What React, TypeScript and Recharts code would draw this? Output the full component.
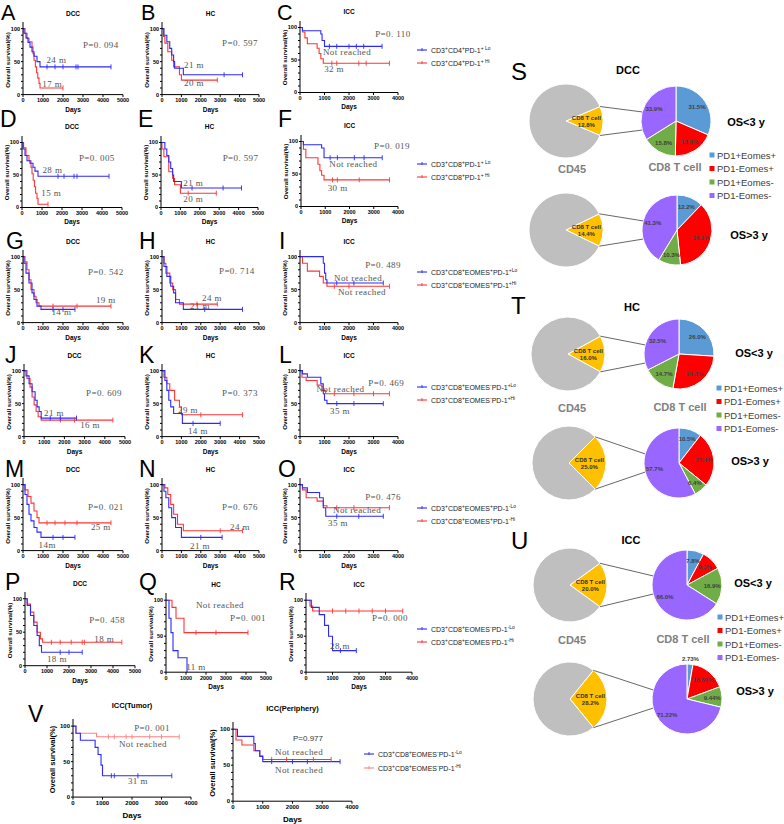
import React from 'react';
import { LineChart, Line, XAxis, YAxis, ReferenceDot, PieChart, Pie, Cell } from 'recharts';

const SANS = '"Liberation Sans", Arial, Helvetica, sans-serif';
const SERIF = '"Liberation Serif", "Times New Roman", serif';
const BLUE = '#2a2aff';
const RED = '#ff3535';
const LIGHT_RED = '#ff8080';

// ---------- tick labels ----------
const Y_TICKS = [0, 10, 20, 30, 40, 50, 60, 70, 80, 90, 100];
const X_TICKS_5K = [0, 1000, 2000, 3000, 4000, 5000];
const X_TICKS_4K = [0, 1000, 2000, 3000, 4000];

// ---------- KM curves: [day, survival %, censored(1)] ----------
const A_lo = [[0,100],[50,93],[150,86],[250,79],[350,72],[450,65],[550,58],[700,50],[850,42],[1200,42,1],[1600,42,1],[2000,42,1],[2650,42,1],[2750,42,1],[4400,42,1]];
const A_hi = [[0,100],[100,93],[200,85],[300,80],[450,72],[500,62],[550,52],[620,42],[680,33],[740,25],[800,17],[850,10],[2000,10,1]];
const B_lo = [[0,100],[100,90],[250,80],[400,70],[500,60],[600,50],[650,40],[1100,30],[3200,30,1],[4150,30,1]];
const B_hi = [[0,100],[80,88],[150,78],[300,65],[500,52],[600,42],[900,30],[1000,22],[2850,22,1]];
const C_lo = [[0,100],[100,95],[850,90],[900,80],[1000,71],[1200,71,1],[1500,71,1],[2000,71,1],[2300,71,1],[2600,71,1],[3350,71,1]];
const C_hi = [[0,100],[100,93],[200,84],[300,75],[700,68],[780,60],[850,52],[950,45],[1300,45,1],[1500,45,1],[2400,45,1],[2700,45,1],[3650,45,1]];
const D_lo = [[0,100],[50,90],[150,80],[250,72],[400,68],[550,62],[650,56],[800,48],[1800,48,1],[2100,48,1],[2600,48,1],[2750,48,1],[4350,48,1]];
const D_hi = [[0,100],[80,92],[200,80],[350,72],[450,62],[500,52],[560,42],[620,32],[680,22],[750,14],[800,5],[1300,5,1]];
const E_lo = [[0,100],[200,90],[300,80],[400,70],[500,60],[600,50],[650,40],[1050,30],[1600,30,1],[3200,30,1],[4150,30,1]];
const E_hi = [[0,100],[50,90],[150,78],[400,55],[600,45],[700,35],[1000,22],[1400,22,1],[2850,22,1]];
const F_lo = [[0,100],[100,95],[850,90],[950,75],[1200,75,1],[1500,75,1],[2200,75,1],[2600,75,1],[3350,75,1]];
const F_hi = [[0,100],[100,88],[200,75],[700,65],[780,55],[850,48],[950,41],[1300,41,1],[1500,41,1],[2400,41,1],[3650,41,1]];
const G_lo = [[0,100],[50,90],[150,75],[300,60],[450,45],[550,35],[700,25],[900,20],[1500,20,1],[2000,20,1],[2600,20,1]];
const G_hi = [[0,100],[100,92],[200,80],[300,65],[400,50],[550,40],[650,30],[800,25],[1500,25,1],[2700,25,1],[4400,25,1]];
const H_lo = [[0,100],[100,85],[250,70],[450,55],[600,45],[700,30],[1100,20],[2200,20,1],[4150,20,1]];
const H_hi = [[0,100],[100,90],[200,75],[400,60],[550,50],[700,35],[900,28],[1800,28,1],[2850,28,1]];
const I_lo = [[0,100],[900,100],[950,90],[1000,75],[1050,65],[1100,60],[1500,60,1],[2200,60,1],[3400,60,1]];
const I_hi = [[0,100],[100,90],[300,78],[800,70],[950,60],[1100,55],[1400,55,1],[2000,55,1],[3650,55,1]];
const J_lo = [[0,100],[100,92],[250,80],[400,68],[550,55],[650,45],[750,38],[850,28],[1300,28,1],[1800,28,1],[2600,28,1]];
const J_hi = [[0,100],[150,88],[300,75],[400,60],[500,48],[600,38],[700,30],[850,25],[1800,25,1],[2500,25,1],[4400,25,1]];
const K_lo = [[0,100],[150,85],[250,70],[350,55],[450,45],[600,35],[1050,20],[1600,20,1],[3000,20,1]];
const K_hi = [[0,100],[100,90],[250,80],[400,70],[650,55],[900,45],[1000,33],[2000,33,1],[4150,33,1]];
const L_lo = [[0,100],[100,95],[300,90],[850,80],[950,65],[1000,55],[1100,50],[1500,50,1],[2200,50,1],[3400,50,1]];
const L_hi = [[0,100],[80,90],[250,85],[700,78],[900,70],[1050,65],[1400,65,1],[2200,65,1],[3000,65,1],[3650,65,1]];
const M_lo = [[0,100],[100,85],[200,70],[300,55],[400,45],[550,35],[700,28],[900,20],[1500,20,1],[2000,20,1],[2600,20,1]];
const M_hi = [[0,100],[100,92],[250,82],[400,72],[550,60],[700,50],[800,42],[1200,42,1],[1600,42,1],[2100,42,1],[2700,42,1],[4400,42,1]];
const N_lo = [[0,100],[100,90],[200,80],[350,65],[500,50],[700,35],[1000,20],[2000,20,1],[3100,20,1]];
const N_hi = [[0,100],[150,95],[300,85],[450,70],[600,55],[800,40],[1100,30],[3000,30,1],[4150,30,1]];
const O_lo = [[0,100],[100,95],[300,88],[800,80],[950,65],[1050,52],[1500,52,1],[2400,52,1],[3400,52,1]];
const O_hi = [[0,100],[100,92],[250,80],[700,75],[950,68],[1100,65],[1500,65,1],[2200,65,1],[3650,65,1]];
const P_lo = [[0,100],[100,90],[250,75],[400,60],[550,45],[650,30],[750,20],[1600,20,1],[2000,20,1],[2600,20,1]];
const P_hi = [[0,100],[100,92],[250,80],[400,65],[550,50],[700,40],[800,35],[1200,35,1],[1600,35,1],[2100,35,1],[2600,35,1],[2700,35,1],[4400,35,1]];
const Q_lo = [[0,100],[150,75],[250,55],[350,30],[600,20],[1050,0]];
const Q_hi = [[0,100],[300,90],[500,75],[900,55],[1500,55,1],[2500,55,1],[4100,55,1]];
const R_lo = [[0,100],[200,90],[500,80],[700,65],[850,50],[1000,30],[1300,30,1],[1900,30,1]];
const R_hi = [[0,100],[150,92],[250,85],[1000,85,1],[1500,85,1],[2000,85,1],[2500,85,1],[3000,85,1],[3650,85,1]];
const VT_lo = [[0,100],[100,90],[250,80],[750,70],[850,60],[950,45],[1000,30],[1300,30,1],[1400,30,1],[2200,30,1],[3350,30,1]];
const VT_hi = [[0,100],[100,90],[800,85],[1200,85,1],[1400,85,1],[1800,85,1],[2000,85,1],[2600,85,1],[3000,85,1],[3600,85,1]];
const VP_lo = [[0,100],[150,90],[700,80],[750,70],[900,62],[1000,55],[1300,55,1],[2000,55,1],[2500,55,1],[3600,55,1]];
const VP_hi = [[0,100],[100,85],[300,78],[700,70],[900,63],[1000,58],[1300,58,1],[1800,58,1],[2700,58,1],[3300,58,1]];

// ---------- in-plot annotations: [day, survival %, text, font?] ----------
type Note = [number, number, string, string?];
const A_notes: Note[] = [[3890,76,'P=0. 094'],[1670,53,'24 m'],[1460,16,'17 m']];
const B_notes: Note[] = [[4020,79,'P=0. 597'],[1650,45,'21 m'],[1650,18,'20 m']];
const C_notes: Note[] = [[3790,90,'P=0. 110'],[1920,63,'Not reached'],[1390,36,'32 m']];
const D_notes: Note[] = [[3740,77,'P=0. 005'],[1520,58,'28 m'],[1460,23,'15 m']];
const E_notes: Note[] = [[4100,77,'P=0. 597'],[1660,38,'21 m'],[1660,14,'20 m']];
const F_notes: Note[] = [[3750,94,'P=0. 019'],[2160,66,'Not reached'],[1510,29,'30 m']];
const G_notes: Note[] = [[4140,77,'P=0. 542'],[4140,35,'19 m'],[1920,17,'14 m']];
const H_notes: Note[] = [[3860,79,'P=0. 714'],[2575,37,'24 m'],[1960,25,'21 m']];
const I_notes: Note[] = [[3390,88,'P=0. 489'],[2370,68,'Not reached'],[2530,47,'Not reached']];
const J_notes: Note[] = [[3960,67,'P=0. 609'],[1485,36,'21 m'],[3270,18,'16 m']];
const K_notes: Note[] = [[4020,67,'P=0. 373'],[1340,40,'29 m'],[1850,9,'14 m']];
const L_notes: Note[] = [[3520,82,'P=0. 469'],[1650,73,'Not reached'],[1630,39,'35 m']];
const M_notes: Note[] = [[4140,67,'P=0. 021'],[3890,36,'25 m'],[1210,9,'14m']];
const N_notes: Note[] = [[4020,67,'P=0. 676'],[4020,36,'24 m'],[1960,8,'21 m']];
const O_notes: Note[] = [[3390,82,'P=0. 476'],[2330,62,'Not reached'],[1550,42,'35 m']];
const P_notes: Note[] = [[3730,69,'P=0. 458'],[3600,40,'18 m'],[1450,10,'18 m']];
const Q_notes: Note[] = [[4100,75,'P=0. 001'],[2700,94,'Not reached'],[1500,7,'11 m']];
const R_notes: Note[] = [[3170,75,'P=0. 000'],[1280,36,'28 m']];
const VT_notes: Note[] = [[2680,97,'P=0. 001'],[2370,75,'Not reached'],[2200,23,'31 m']];
const VP_notes: Note[] = [[2520,87,'P=0.977','sans'],[2220,68,'Not reached'],[2220,44,'Not reached']];

// ---------- legend labels ('^' toggles superscript) ----------
const LEG_A = ['CD3^+^CD4^+^PD-1^+ Lo', 'CD3^+^CD4^+^PD-1^+ Hi'];
const LEG_D = ['CD3^+^CD8^+^PD-1^+ Lo', 'CD3^+^CD8^+^PD-1^+ Hi'];
const LEG_G = ['CD3^+^CD8^+^EOMES^+^PD-1^+Lo', 'CD3^+^CD8^+^EOMES^+^PD-1^+Hi'];
const LEG_J = ['CD3^+^CD8^+^EOMES^-^PD-1^+Lo', 'CD3^+^CD8^+^EOMES^-^PD-1^+Hi'];
const LEG_M = ['CD3^+^CD8^+^EOMES^+^PD-1^-Lo', 'CD3^+^CD8^+^EOMES^+^PD-1^-Hi'];
const LEG_P = ['CD3^+^CD8^+^EOMES^-^PD-1^-Lo', 'CD3^+^CD8^+^EOMES^-^PD-1^-Hi'];

// ---------- pie data ----------
const SUBSETS = ['PD1+Eomes+', 'PD1-Eomes+', 'PD1+Eomes-', 'PD1-Eomes-'];
const SUB_COLORS = ['#5b9bd5', '#ff0000', '#70ad47', '#9966ff'];
const CD8_S = [12.8, 14.4];
const CD8_T = [16.0, 25.0];
const CD8_U = [20.0, 28.2];
const S_LT3 = [31.5, 18.8, 15.8, 33.9];
const S_GT3 = [12.2, 36.2, 10.3, 41.3];
const T_LT3 = [26.0, 26.8, 14.7, 32.5];
const T_GT3 = [10.5, 25.4, 6.4, 57.7];
const U_LT3 = [7.8, 9.3, 16.9, 66.0];
const U_GT3 = [2.73, 16.60, 9.44, 71.22];

// ---------- layout ----------
interface Panel { letter: string; lx: number; ly: number; title: string; x0: number; x1: number; y100: number; y0: number; xmax: number; lo: number[][]; hi: number[][]; notes: Note[]; big?: boolean; hiColor?: string; }

const PANELS: Panel[] = [
  { letter: 'A', lx: 1, ly: 20, title: 'DCC', x0: 23, x1: 123, y100: 29, y0: 95, xmax: 5000, lo: A_lo, hi: A_hi, notes: A_notes },
  { letter: 'B', lx: 141, ly: 20, title: 'HC', x0: 162, x1: 259, y100: 29, y0: 95, xmax: 5000, lo: B_lo, hi: B_hi, notes: B_notes },
  { letter: 'C', lx: 277, ly: 20, title: 'ICC', x0: 300, x1: 398, y100: 27, y0: 92, xmax: 4000, lo: C_lo, hi: C_hi, notes: C_notes },
  { letter: 'D', lx: 0, ly: 127, title: 'DCC', x0: 22, x1: 122, y100: 142, y0: 207, xmax: 5000, lo: D_lo, hi: D_hi, notes: D_notes },
  { letter: 'E', lx: 138, ly: 127, title: 'HC', x0: 161, x1: 258, y100: 142, y0: 207, xmax: 5000, lo: E_lo, hi: E_hi, notes: E_notes },
  { letter: 'F', lx: 278, ly: 127, title: 'ICC', x0: 301, x1: 398, y100: 141, y0: 206, xmax: 4000, lo: F_lo, hi: F_hi, notes: F_notes },
  { letter: 'G', lx: 6, ly: 249, title: 'DCC', x0: 23, x1: 123, y100: 257, y0: 323, xmax: 5000, lo: G_lo, hi: G_hi, notes: G_notes },
  { letter: 'H', lx: 139, ly: 249, title: 'HC', x0: 162, x1: 259, y100: 257, y0: 323, xmax: 5000, lo: H_lo, hi: H_hi, notes: H_notes },
  { letter: 'I', lx: 279, ly: 249, title: 'ICC', x0: 300, x1: 398, y100: 257, y0: 323, xmax: 4000, lo: I_lo, hi: I_hi, notes: I_notes },
  { letter: 'J', lx: 5, ly: 363, title: 'DCC', x0: 24, x1: 125, y100: 371, y0: 437, xmax: 5000, lo: J_lo, hi: J_hi, notes: J_notes },
  { letter: 'K', lx: 139, ly: 363, title: 'HC', x0: 162, x1: 259, y100: 371, y0: 437, xmax: 5000, lo: K_lo, hi: K_hi, notes: K_notes },
  { letter: 'L', lx: 279, ly: 363, title: 'ICC', x0: 300, x1: 398, y100: 371, y0: 437, xmax: 4000, lo: L_lo, hi: L_hi, notes: L_notes },
  { letter: 'M', lx: 5, ly: 477, title: 'DCC', x0: 23, x1: 123, y100: 485, y0: 551, xmax: 5000, lo: M_lo, hi: M_hi, notes: M_notes },
  { letter: 'N', lx: 139, ly: 477, title: 'HC', x0: 162, x1: 259, y100: 485, y0: 551, xmax: 5000, lo: N_lo, hi: N_hi, notes: N_notes },
  { letter: 'O', lx: 278, ly: 477, title: 'ICC', x0: 300, x1: 398, y100: 485, y0: 551, xmax: 4000, lo: O_lo, hi: O_hi, notes: O_notes },
  { letter: 'P', lx: 5, ly: 590, title: 'DCC', x0: 25, x1: 135, y100: 599, y0: 666, xmax: 5000, lo: P_lo, hi: P_hi, notes: P_notes },
  { letter: 'Q', lx: 139, ly: 590, title: 'HC', x0: 166, x1: 266, y100: 600, y0: 672, xmax: 5000, lo: Q_lo, hi: Q_hi, notes: Q_notes },
  { letter: 'R', lx: 279, ly: 590, title: 'ICC', x0: 306, x1: 412, y100: 600, y0: 672, xmax: 4000, lo: R_lo, hi: R_hi, notes: R_notes },
  { letter: '', lx: 0, ly: 0, title: 'ICC(Tumor)', x0: 73, x1: 191, y100: 726, y0: 797, xmax: 4000, lo: VT_lo, hi: VT_hi, notes: VT_notes, big: true, hiColor: LIGHT_RED },
  { letter: '', lx: 0, ly: 0, title: 'ICC(Periphery)', x0: 233, x1: 352, y100: 729, y0: 801, xmax: 4000, lo: VP_lo, hi: VP_hi, notes: VP_notes, big: true },
];

const KM_LEGENDS = [
  { x: 417, y: 50, labels: LEG_A, gap: 13 },
  { x: 417, y: 164, labels: LEG_D, gap: 13 },
  { x: 417, y: 272, labels: LEG_G, gap: 13 },
  { x: 417, y: 387, labels: LEG_J, gap: 13 },
  { x: 417, y: 508, labels: LEG_M, gap: 13 },
  { x: 417, y: 629, labels: LEG_P, gap: 13 },
  { x: 364, y: 754, labels: LEG_P, gap: 14 },
];

const PIE_LEFT = 500;
const PIE_TOP = 40;
const GRAY_R = 37;
const SUB_R = 35;
const PIE_GROUPS = [
  { gx: 566, gy: 121, sx: 676, sy: 121, cd8: CD8_S[0], vals: S_LT3, dec: 1 },
  { gx: 566, gy: 230, sx: 677, sy: 230, cd8: CD8_S[1], vals: S_GT3, dec: 1 },
  { gx: 568, gy: 354, sx: 679, sy: 354, cd8: CD8_T[0], vals: T_LT3, dec: 1 },
  { gx: 569, gy: 463, sx: 679, sy: 463, cd8: CD8_T[1], vals: T_GT3, dec: 1 },
  { gx: 570, gy: 585, sx: 687, sy: 585, cd8: CD8_U[0], vals: U_LT3, dec: 1 },
  { gx: 570, gy: 699, sx: 687, sy: 699, cd8: CD8_U[1], vals: U_GT3, dec: 2 },
];
const PIE_SECTIONS = [
  { letter: 'S', ly: 80, title: 'DCC', tx: 628, ty: 74, os: [[746, 126], [749, 239]], cd8lab: [675, 171], cd45: [572, 173], leg: [712, 155] },
  { letter: 'T', ly: 314, title: 'HC', tx: 632, ty: 311, os: [[754, 357], [750, 465]], cd8lab: [680, 411], cd45: [572, 412], leg: [719, 388] },
  { letter: 'U', ly: 549, title: 'ICC', tx: 631, ty: 544, os: [[753, 587], [755, 695]], cd8lab: [683, 643], cd45: [572, 644], leg: [720, 617] },
];

const toRows = (arr: number[][]) => arr.map((r) => ({ x: r[0], y: r[1], c: r[2] === 1 }));

function censorDot(color: string) {
  return (props: any) => {
    const { cx, cy, payload, index } = props;
    if (!payload || !payload.c || cx == null || cy == null) return <g key={`n${index}`} />;
    return <line key={`c${index}`} x1={cx} x2={cx} y1={cy - 2.5} y2={cy + 2.5} stroke={color} strokeWidth={0.9} />;
  };
}

function KMChart({ p }: { p: Panel }) {
  const Yw = 20, mr = 16, mt = 2, xh = p.big ? 13 : 12;
  const top = p.y0 - (p.y0 - p.y100) * 1.1;
  const W = p.x1 - p.x0 + Yw + mr;
  const H = p.y0 - top + mt + xh;
  const tfs = p.big ? 6 : 5.5;
  const hiColor = p.hiColor || RED;
  const tickStyle = { fontSize: tfs, fontWeight: 700, fill: '#000', fontFamily: SANS };
  return (
    <div style={{ position: 'absolute', left: p.x0 - Yw, top: top - mt, width: W, height: H }}>
      <LineChart width={W} height={H} margin={{ top: mt, right: mr, bottom: 0, left: 0 }}>
        <XAxis type="number" dataKey="x" domain={[0, p.xmax]} ticks={p.xmax === 5000 ? X_TICKS_5K : X_TICKS_4K}
          interval={0} height={xh} tickSize={2.5} tickMargin={1} stroke="#000" tick={tickStyle} allowDataOverflow />
        <YAxis type="number" dataKey="y" domain={[0, 110]} ticks={Y_TICKS} interval={0} width={Yw} tickSize={2}
          tickMargin={1} stroke="#000" tick={tickStyle} allowDataOverflow
          tickFormatter={(v: number) => (v % 50 === 0 ? String(v) : '')} />
        <Line data={toRows(p.hi)} dataKey="y" type="stepAfter" stroke={hiColor} strokeWidth={1.1}
          dot={censorDot(hiColor)} activeDot={false} isAnimationActive={false} />
        <Line data={toRows(p.lo)} dataKey="y" type="stepAfter" stroke={BLUE} strokeWidth={1.1}
          dot={censorDot(BLUE)} activeDot={false} isAnimationActive={false} />
        {p.notes.map((n, i) => (
          <ReferenceDot key={i} x={n[0]} y={n[1]} r={0} fill="none" stroke="none" ifOverflow="visible"
            label={{
              value: n[2], position: 'center',
              fill: n[3] === 'sans' ? '#333' : '#555',
              fontSize: n[3] === 'sans' ? 8 : 9,
              fontFamily: n[3] === 'sans' ? SANS : SERIF,
              letterSpacing: n[3] === 'sans' ? 0 : 0.4,
            }} />
        ))}
      </LineChart>
    </div>
  );
}

function SupText({ x, y, s, fs }: { x: number; y: number; s: string; fs: number }) {
  const parts = s.split('^');
  return (
    <text x={x} y={y} fontSize={fs} fontFamily={SANS} fill="#222">
      {parts.map((t, i) => {
        const sup = i % 2 === 1;
        const prevSup = i > 0 && (i - 1) % 2 === 1;
        const dy = sup ? -fs * 0.4 : prevSup ? fs * 0.4 : 0;
        return (
          <tspan key={i} dy={dy} fontSize={sup ? fs * 0.7 : fs}>{t}</tspan>
        );
      })}
    </text>
  );
}

const grayLabel = (props: any) => {
  const { cx, cy, outerRadius, index, value } = props;
  if (index !== 0) return <g key={`g${index}`} />;
  const x = cx + outerRadius * 0.55;
  return (
    <text key={`g${index}`} x={x} y={cy} textAnchor="middle" fontSize={6} fontWeight={700} fill="#333" fontFamily={SANS}>
      <tspan x={x} dy={-1.5}>CD8 T cell</tspan>
      <tspan x={x} dy={7.5}>{Number(value).toFixed(1)}%</tspan>
    </text>
  );
};

const subLabel = (dec: number) => (props: any) => {
  const { cx, cy, midAngle, outerRadius, value, index } = props;
  const v = Number(value);
  const rr = v < 4 ? outerRadius + 5 : outerRadius * 0.72;
  const a = (-midAngle * Math.PI) / 180;
  return (
    <text key={`s${index}`} x={cx + rr * Math.cos(a)} y={cy + rr * Math.sin(a)} textAnchor="middle"
      dominantBaseline="central" fontSize={6} fontWeight={700} fill="#404040" fontFamily={SANS}>
      {v.toFixed(dec)}%
    </text>
  );
};

export default function App() {
  const deg = Math.PI / 180;
  return (
    <div style={{ position: 'absolute', left: 0, top: 0, width: 784, height: 824, background: '#fff', overflow: 'hidden' }}>
      <style>{`.recharts-surface{overflow:visible}`}</style>
      {PANELS.map((p, i) => <KMChart key={i} p={p} />)}

      <div style={{ position: 'absolute', left: PIE_LEFT, top: PIE_TOP }}>
        <PieChart width={284} height={700} margin={{ top: 0, right: 0, bottom: 0, left: 0 }}>
          {PIE_GROUPS.map((g, i) => (
            <Pie key={`g${i}`} data={[{ name: 'CD8 T cell', value: g.cd8 }, { name: 'other', value: 100 - g.cd8 }]}
              dataKey="value" cx={g.gx - PIE_LEFT} cy={g.gy - PIE_TOP} outerRadius={GRAY_R}
              startAngle={g.cd8 * 1.8} endAngle={g.cd8 * 1.8 - 360} stroke="#fff" strokeWidth={1}
              label={grayLabel} labelLine={false} isAnimationActive={false}>
              <Cell fill="#ffc000" />
              <Cell fill="#bfbfbf" />
            </Pie>
          ))}
          {PIE_GROUPS.map((g, i) => (
            <Pie key={`s${i}`} data={SUBSETS.map((n, k) => ({ name: n, value: g.vals[k] }))}
              dataKey="value" cx={g.sx - PIE_LEFT} cy={g.sy - PIE_TOP} outerRadius={SUB_R}
              startAngle={90} endAngle={-270} stroke="#fff" strokeWidth={1}
              label={subLabel(g.dec)} labelLine={false} isAnimationActive={false}>
              {SUB_COLORS.map((c, k) => <Cell key={k} fill={c} />)}
            </Pie>
          ))}
        </PieChart>
      </div>

      <svg width={784} height={824} style={{ position: 'absolute', left: 0, top: 0, pointerEvents: 'none' }}>
        {PANELS.map((p, i) => {
          const cxm = (p.x0 + p.x1) / 2;
          const ylx = p.x0 - (p.big ? 21 : 15);
          const ylfs = p.big ? 7.5 : 6.2;
          const yly = (p.y100 + p.y0) / 2 - 2;
          return (
            <g key={i} fontFamily={SANS}>
              {p.letter && <text x={p.lx} y={p.ly} fontSize={p.ly < 30 ? 21.5 : 23} fill="#000">{p.letter}</text>}
              <text x={cxm} y={p.y100 - (p.big ? 18 : 13.5)} textAnchor="middle" fontSize={p.big ? 7.5 : 6.5} fontWeight={700}>{p.title}</text>
              <text transform={`translate(${ylx + ylfs * 0.35},${yly}) rotate(-90)`} textAnchor="middle" fontSize={ylfs} fontWeight={700}>Overall survival(%)</text>
              <text x={cxm} y={p.y0 + (p.big ? 21 : 16.5)} textAnchor="middle" fontSize={p.big ? 8 : 6.5} fontWeight={700}>Days</text>
            </g>
          );
        })}
        <text x={28} y={722} fontSize={23} fontFamily={SANS}>V</text>

        {KM_LEGENDS.map((l, i) => (
          <g key={i}>
            {l.labels.map((s, k) => {
              const y = l.y + k * l.gap;
              const col = k === 0 ? BLUE : i === KM_LEGENDS.length - 1 ? LIGHT_RED : RED;
              return (
                <g key={k}>
                  <line x1={l.x} x2={l.x + 10} y1={y} y2={y} stroke={col} strokeWidth={1.1} />
                  <line x1={l.x + 5} x2={l.x + 5} y1={y - 2} y2={y + 1} stroke={col} strokeWidth={0.9} />
                  <SupText x={l.x + 14} y={y + 2.5} s={s} fs={7} />
                </g>
              );
            })}
          </g>
        ))}

        {PIE_GROUPS.map((g, i) => {
          const h = g.cd8 * 1.8 * deg;
          const ax = g.gx + GRAY_R * Math.cos(h);
          const ex = g.sx + SUB_R * Math.cos(165 * deg);
          const ed = SUB_R * Math.sin(165 * deg);
          return (
            <g key={i} stroke="#404040" strokeWidth={0.8}>
              <line x1={ax} y1={g.gy - GRAY_R * Math.sin(h)} x2={ex} y2={g.sy - ed} />
              <line x1={ax} y1={g.gy + GRAY_R * Math.sin(h)} x2={ex} y2={g.sy + ed} />
            </g>
          );
        })}

        {PIE_SECTIONS.map((s, i) => (
          <g key={i} fontFamily={SANS}>
            <text x={511} y={s.ly} fontSize={24}>{s.letter}</text>
            <text x={s.tx} y={s.ty} textAnchor="middle" fontSize={11} fontWeight={700}>{s.title}</text>
            <text x={s.os[0][0]} y={s.os[0][1]} textAnchor="middle" fontSize={11} fontWeight={700}>OS&lt;3 y</text>
            <text x={s.os[1][0]} y={s.os[1][1]} textAnchor="middle" fontSize={11} fontWeight={700}>OS&gt;3 y</text>
            <text x={s.cd8lab[0]} y={s.cd8lab[1]} textAnchor="middle" fontSize={11} fill="#7f7f7f" fontWeight={700}>CD8 T cell</text>
            <text x={s.cd45[0]} y={s.cd45[1]} textAnchor="middle" fontSize={11} fill="#7f7f7f" fontWeight={700}>CD45</text>
            {SUBSETS.map((n, k) => (
              <g key={k}>
                <rect x={s.leg[0] - 2.5} y={s.leg[1] + k * 13.5 - 2.5} width={5} height={5} fill={SUB_COLORS[k]} />
                <text x={s.leg[0] + 5} y={s.leg[1] + k * 13.5 + 3.5} fontSize={9.5} fill="#404040">{n}</text>
              </g>
            ))}
          </g>
        ))}
      </svg>
    </div>
  );
}
